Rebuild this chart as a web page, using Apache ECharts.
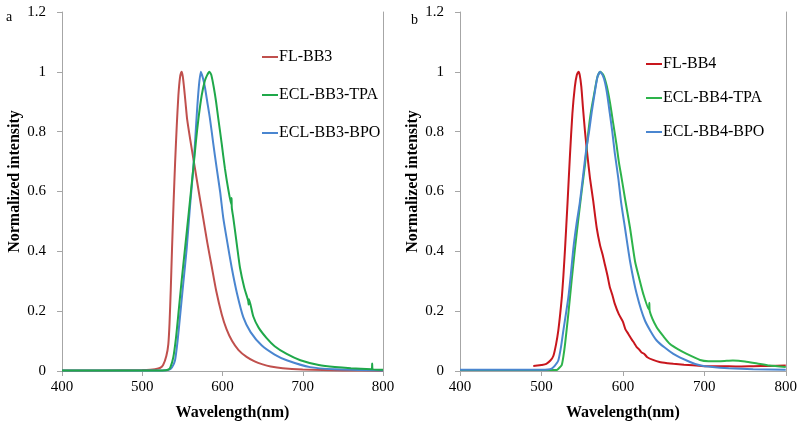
<!DOCTYPE html>
<html>
<head>
<meta charset="utf-8">
<script src="https://cdn.jsdelivr.net/npm/echarts@6/dist/echarts.min.js"></script>
<style>html,body{margin:0;padding:0;background:#fff}#c{width:800px;height:426px}</style>
</head>
<body>
<div id="c"></div>
<script>
// Panel a (BB3)
const flBB3 = [[400,0.002],[450,0.002],[500,0.003],[510,0.004],[516,0.006],[522,0.01],[526,0.02],[530,0.05],[532.5,0.09],[534,0.16],[535.5,0.27],[537,0.4],[539,0.56],[541,0.7],[543,0.82],[545,0.92],[547,0.98],[549,1.0],[550.5,0.985],[552,0.95],[554,0.895],[556,0.84],[560,0.77],[565.7,0.677],[571,0.59],[576,0.51],[581,0.43],[586.5,0.35],[592,0.27],[599,0.19],[605,0.14],[612,0.1],[620,0.07],[630,0.047],[640,0.032],[650,0.022],[660,0.015],[675,0.009],[700,0.005],[750,0.002],[800,0.001]];
const eclBB3TPA = [[400,0.002],[500,0.002],[525,0.002],[532,0.004],[535,0.012],[538.7,0.046],[542,0.11],[545,0.19],[549,0.3],[553.3,0.41],[558,0.53],[563.6,0.677],[567,0.77],[570,0.843],[574,0.92],[578,0.97],[581,0.99],[583.6,1.0],[586,0.99],[589,0.95],[592,0.9],[594.8,0.843],[599,0.76],[603,0.677],[607,0.61],[611,0.556],[611.3,0.578],[611.6,0.545],[613.5,0.511],[618,0.42],[621.8,0.345],[627,0.28],[632,0.235],[632.6,0.222],[633,0.24],[638.4,0.182],[645,0.145],[655,0.11],[665,0.083],[680,0.057],[697,0.036],[720,0.02],[740,0.013],[760,0.009],[786,0.006],[786.5,0.025],[787,0.006],[800,0.004]];
const eclBB3BPO = [[400,0.002],[500,0.002],[525,0.002],[533,0.004],[537,0.012],[540.8,0.035],[544,0.1],[547,0.18],[551,0.29],[555.4,0.41],[559.5,0.55],[563.6,0.677],[565.7,0.76],[568,0.86],[570.5,0.95],[573,1.0],[575.5,0.98],[578,0.95],[581,0.9],[584.4,0.843],[588.5,0.76],[592.8,0.677],[597,0.6],[601,0.511],[606,0.43],[611.5,0.345],[618,0.26],[626,0.179],[635,0.13],[649,0.085],[665,0.055],[680,0.036],[709,0.013],[740,0.006],[800,0.002]];
// Panel b (BB4)
const flBB4 = [[490,0.017],[495,0.018],[500,0.02],[506,0.024],[511,0.035],[514.6,0.05],[518,0.09],[520.7,0.135],[523,0.19],[525,0.245],[527,0.32],[529,0.41],[532,0.56],[535,0.72],[538,0.86],[541,0.95],[543.5,0.99],[545.5,1.0],[547,0.99],[549,0.95],[551,0.88],[553.5,0.8],[556.5,0.72],[559.6,0.645],[563.5,0.57],[567.9,0.478],[572,0.42],[575,0.39],[578,0.355],[581,0.32],[584,0.28],[587,0.255],[590,0.225],[595,0.19],[600,0.165],[603,0.14],[606.7,0.124],[611,0.105],[614,0.093],[617,0.08],[620,0.072],[623,0.062],[626,0.058],[630,0.046],[637,0.037],[645,0.03],[655,0.026],[662,0.024],[675,0.021],[686,0.019],[700,0.016],[720,0.016],[740,0.015],[760,0.016],[780,0.017],[800,0.018]];
const eclBB4TPA = [[400,0.003],[500,0.003],[518.7,0.003],[521,0.008],[524.9,0.02],[527,0.05],[529,0.09],[533,0.19],[537,0.3],[541.2,0.41],[545,0.5],[549.4,0.6],[553.5,0.69],[557.6,0.8],[561,0.87],[565,0.93],[568.5,0.98],[572,1.0],[576,0.99],[580,0.955],[584,0.9],[588,0.83],[592,0.76],[595,0.7],[598.5,0.644],[603,0.57],[608.8,0.478],[614.9,0.367],[620,0.31],[625.1,0.257],[632,0.205],[632.5,0.228],[633,0.2],[641.5,0.146],[650,0.115],[657.9,0.09],[668,0.072],[678.4,0.057],[694.7,0.037],[705,0.033],[720,0.033],[735,0.035],[750,0.032],[765,0.025],[780,0.018],[800,0.013]];
const eclBB4BPO = [[400,0.004],[450,0.004],[500,0.004],[508,0.005],[512.6,0.008],[516,0.016],[520.7,0.035],[524,0.08],[526.9,0.135],[530,0.19],[533,0.245],[536,0.32],[539.2,0.41],[543,0.49],[547,0.56],[551,0.65],[555,0.74],[558.5,0.8],[562,0.87],[566,0.94],[569,0.985],[572,1.0],[575,0.99],[578,0.965],[581,0.92],[584,0.86],[587,0.8],[590,0.73],[594.4,0.644],[598,0.56],[602.6,0.478],[608.8,0.367],[617,0.257],[627.2,0.168],[641.5,0.102],[662,0.057],[682.5,0.03],[694.7,0.019],[710,0.013],[730,0.009],[760,0.006],[800,0.004]];

const xTicks = [400, 500, 600, 700, 800];
const yTicks = [0, 0.2, 0.4, 0.6, 0.8, 1, 1.2];

const axisGray = '#A6A6A6';
const serif = '"Liberation Serif", "DejaVu Serif", serif';

function xAx(gi, shift) {
  return {
    type: 'value', gridIndex: gi, min: xTicks[0], max: xTicks[xTicks.length-1], interval: 100,
    name: 'Wavelength(nm)', nameLocation: 'middle', nameGap: 34,
    nameTextStyle: {fontFamily: serif, fontWeight: 'bold', fontSize: 16, color: '#000', padding: [0, 0, 0, shift]},
    axisLine: {show: true, lineStyle: {color: axisGray, width: 1}},
    axisTick: {show: true, inside: false, length: 5, lineStyle: {color: axisGray}},
    axisLabel: {fontFamily: serif, fontSize: 15, color: '#000', margin: 9},
    splitLine: {show: false}
  };
}
function yAx(gi) {
  return {
    type: 'value', gridIndex: gi, min: yTicks[0], max: yTicks[yTicks.length-1], interval: 0.2,
    name: 'Normalized intensity', nameLocation: 'middle', nameGap: 39, nameRotate: 90,
    nameTextStyle: {fontFamily: serif, fontWeight: 'bold', fontSize: 16, color: '#000', padding: [0, 0, 0, 20]},
    axisLine: {show: true, lineStyle: {color: axisGray, width: 1}},
    axisTick: {show: true, inside: false, length: 5, lineStyle: {color: axisGray}},
    axisLabel: {fontFamily: serif, fontSize: 15, color: '#000', margin: 16},
    splitLine: {show: false}
  };
}
function yRight(gi) {
  return {
    type: 'value', gridIndex: gi, position: 'right', min: 0, max: 1.2, interval: 0.2,
    axisLine: {show: true, onZero: false, lineStyle: {color: axisGray, width: 1}},
    axisTick: {show: false}, axisLabel: {show: false}, splitLine: {show: false}
  };
}
function ser(name, data, color, xi, yi) {
  return {
    name, type: 'line', data, xAxisIndex: xi, yAxisIndex: yi,
    showSymbol: false, symbol: 'none', smooth: 0.2,
    lineStyle: {color, width: 2}, itemStyle: {color}
  };
}

const cA = {fl: '#C0504D', tpa: '#1FA84A', bpo: '#4A86D0'};
const cB = {fl: '#C8161D', tpa: '#2DB34A', bpo: '#4A86D0'};

const chart = echarts.init(document.getElementById('c'), null, {renderer: 'canvas'});
chart.setOption({
  animation: false,
  backgroundColor: '#fff',
  grid: [
    {left: 62, top: 12, width: 321, height: 362},
    {left: 460, top: 12, width: 326, height: 362}
  ],
  xAxis: [xAx(0, 20), xAx(1, 0)],
  yAxis: [yAx(0), yAx(1), yRight(0), yRight(1)],
  legend: [
    {data: ['FL-BB3', 'ECL-BB3-TPA', 'ECL-BB3-BPO'], orient: 'vertical', left: 257, top: 44,
     itemWidth: 16, itemHeight: 2, icon: 'rect', itemGap: 22,
     textStyle: {fontFamily: serif, fontSize: 16, color: '#000', padding: [0, 0, 0, -4]}},
    {data: ['FL-BB4', 'ECL-BB4-TPA', 'ECL-BB4-BPO'], orient: 'vertical', left: 641, top: 51,
     itemWidth: 16, itemHeight: 2, icon: 'rect', itemGap: 18,
     textStyle: {fontFamily: serif, fontSize: 16, color: '#000', padding: [0, 0, 0, -4]}}
  ],
  graphic: [
    {type: 'text', left: 6, top: 10, style: {text: 'a', font: '14px ' + serif, fill: '#000'}},
    {type: 'text', left: 411, top: 13, style: {text: 'b', font: '14px ' + serif, fill: '#000'}}
  ],
  series: [
    ser('FL-BB3', flBB3, cA.fl, 0, 0),
    ser('ECL-BB3-BPO', eclBB3BPO, cA.bpo, 0, 0),
    ser('ECL-BB3-TPA', eclBB3TPA, cA.tpa, 0, 0),
    ser('FL-BB4', flBB4, cB.fl, 1, 1),
    ser('ECL-BB4-TPA', eclBB4TPA, cB.tpa, 1, 1),
    ser('ECL-BB4-BPO', eclBB4BPO, cB.bpo, 1, 1)
  ]
});
</script>
</body>
</html>
